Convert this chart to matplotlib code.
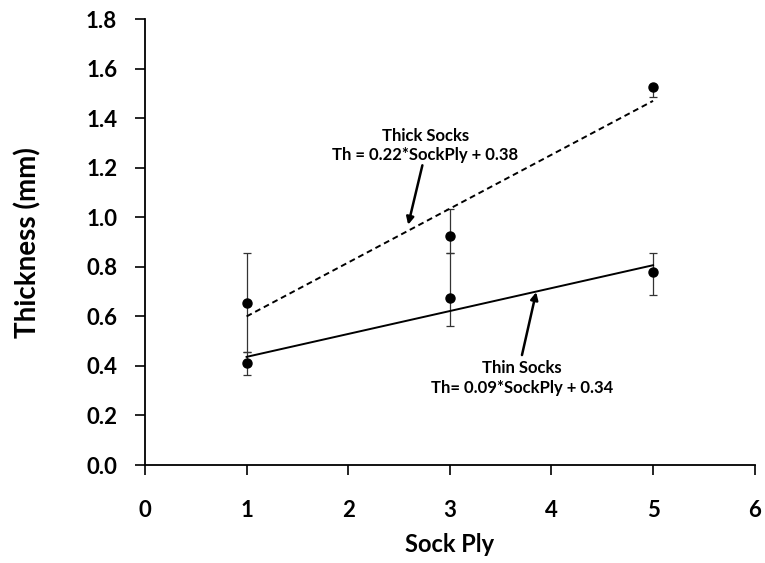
import numpy as np
import matplotlib
matplotlib.use('Agg')
import matplotlib.pyplot as plt

plt.rcParams['font.family'] = ['Lato', 'DejaVu Sans']
plt.rcParams['font.weight'] = 'bold'

# data
sock_ply = [1, 3, 5]
thick = [0.655, 0.925, 1.525]
thick_err_lo = [0.20, 0.07, 0.04]
thick_err_hi = [0.20, 0.11, 0.0]
thin = [0.41, 0.675, 0.78]
thin_err_lo = [0.045, 0.115, 0.095]
thin_err_hi = [0.045, 0.18, 0.075]

fig = plt.figure(figsize=(7.65, 5.63), dpi=100)
ax = fig.add_axes([0.1895, 0.174, 0.797, 0.792])

ax.errorbar(sock_ply, thick, yerr=[thick_err_lo, thick_err_hi], fmt='o', color='black',
            ms=6.5, elinewidth=0.9, ecolor='#333333', capsize=3, capthick=0.9)
ax.errorbar(sock_ply, thin, yerr=[thin_err_lo, thin_err_hi], fmt='o', color='black',
            ms=6.5, elinewidth=0.9, ecolor='#333333', capsize=3, capthick=0.9)

# linear trendlines
xs = np.array([1, 5])
k, b = np.polyfit(sock_ply, thick, 1)
ax.plot(xs, k * xs + b, color='black', lw=1.4, ls=(0, (3, 2)))
k2, b2 = np.polyfit(sock_ply, thin, 1)
ax.plot(xs, k2 * xs + b2, color='black', lw=1.4)

arrow = dict(arrowstyle='-|>', color='black', lw=1.8, mutation_scale=11, shrinkA=0, shrinkB=0)
ax.text(2.76, 1.29, 'Thick Socks\nTh = 0.22*SockPly + 0.38', ha='center', va='center',
        fontsize=12, fontweight='bold', multialignment='center', linespacing=1.3)
ax.annotate('', xy=(2.59, 0.97), xytext=(2.73, 1.21), arrowprops=arrow)
ax.text(3.71, 0.35, 'Thin Socks\nTh= 0.09*SockPly + 0.34', ha='center', va='center',
        fontsize=12, fontweight='bold', multialignment='center', linespacing=1.3)
ax.annotate('', xy=(3.85, 0.698), xytext=(3.71, 0.444), arrowprops=arrow)

ax.set_xlim(0, 6)
ax.set_ylim(0, 1.8)
ax.set_xticks(range(0, 7))
ax.set_yticks(np.arange(0, 1.81, 0.2))
ax.set_yticklabels(['%.1f' % v for v in np.arange(0, 1.81, 0.2)])
ax.tick_params(direction='out', length=7, width=1.2, labelsize=16)
ax.tick_params(axis='x', pad=18)
ax.tick_params(axis='y', pad=13)
for lbl in ax.get_xticklabels() + ax.get_yticklabels():
    lbl.set_fontweight('bold')
ax.spines['top'].set_visible(False)
ax.spines['right'].set_visible(False)
ax.spines['left'].set_linewidth(1.3)
ax.spines['bottom'].set_linewidth(1.3)

ax.set_xlabel('Sock Ply', fontsize=17, fontweight='bold')
ax.set_ylabel('Thickness (mm)', fontsize=20, fontweight='bold')
ax.xaxis.set_label_coords(0.5, -0.152)
ax.yaxis.set_label_coords(-0.169, 0.5)

plt.savefig('out.png', dpi=100)
